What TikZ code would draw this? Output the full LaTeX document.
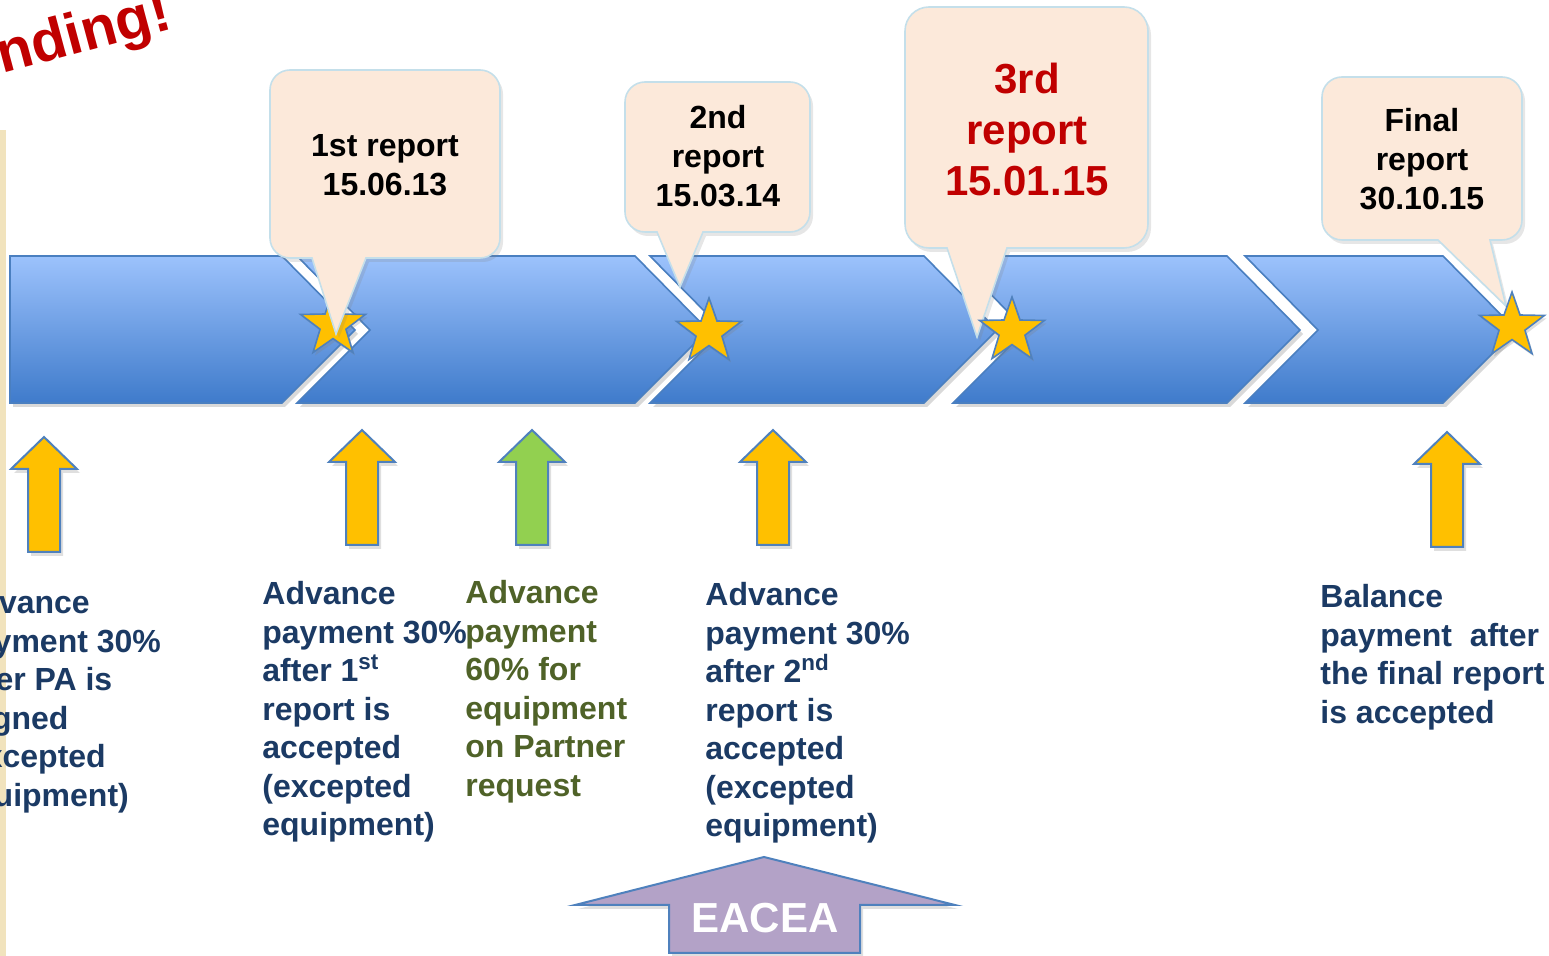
\documentclass[tikz,border=0pt]{standalone}
\usepackage{fontspec}
\setmainfont{Liberation Sans}
\usetikzlibrary{shapes.geometric,shadows}

\definecolor{chevtop}{HTML}{9CC2FC}
\definecolor{chevbot}{HTML}{3F7BCB}
\definecolor{chevline}{HTML}{4A7FC0}
\definecolor{callfill}{HTML}{FCE9DA}
\definecolor{callline}{HTML}{C4DFEA}
\definecolor{starfill}{HTML}{FFC000}
\definecolor{arrline}{HTML}{4F81BD}
\definecolor{payorange}{HTML}{FFC000}
\definecolor{paygreen}{HTML}{92D050}
\definecolor{paynavy}{HTML}{1B3A64}
\definecolor{textgreen}{HTML}{4F6228}
\definecolor{repred}{HTML}{C00000}
\definecolor{eaceafill}{HTML}{B3A2C7}
\definecolor{stripbeige}{HTML}{F1E3BD}

\begin{document}
\begin{tikzpicture}[x=0.5pt,y=-0.5pt,
  chevron/.style={draw=chevline, line width=0.8pt, top color=chevtop, bottom color=chevbot,
    drop shadow={opacity=0.3, shadow xshift=1.5pt, shadow yshift=-2pt}},
  callbox/.style={draw=callline, line width=0.8pt, fill=callfill,
    drop shadow={opacity=0.2, shadow xshift=1.5pt, shadow yshift=-2pt}},
  calltext/.style={align=center, inner sep=0pt, font=\fontsize{16}{19.5}\selectfont\bfseries},
  mstar/.style={star, star points=5, star point ratio=2.5, minimum size=34pt, inner sep=0pt,
    draw=arrline, line width=0.8pt, fill=starfill,
    drop shadow={opacity=0.25, shadow xshift=1pt, shadow yshift=-1.5pt}},
  uparrow/.style={draw=arrline, line width=1pt,
    drop shadow={opacity=0.25, shadow xshift=1.5pt, shadow yshift=-2pt}},
  paytext/.style={anchor=north west, align=left, inner sep=0pt, text=paynavy,
    font=\fontsize{16}{19.25}\selectfont\bfseries},
]
\useasboundingbox (0,0) rectangle (1549,956);
\clip (0,0) rectangle (1549,956);

% left border strip
\fill[stripbeige] (0,130) rectangle (6,956);

% title, cut off
\node[rotate=15, anchor=base east, inner sep=0pt, text=repred,
  font=\fontsize{29}{34}\selectfont\bfseries] (fund) at (174,28) {Funding!};

% timeline
\path[chevron] (10,256) -- (282,256) -- (355,330) -- (282,403) -- (10,403) -- cycle;
\foreach \l/\r in {297/635, 650/924, 953/1227, 1245/1443}
  \path[chevron] (\l,256) -- (\r,256) -- (\r+73,330) -- (\r,403) -- (\l,403) -- (\l+73,330) -- cycle;

\node[mstar] (s1) at (333,325) {};

% report callouts
\path[callbox] (312,258) [rounded corners=10pt] -- (270,258) -- (270,70) -- (500,70) -- (500,258) [sharp corners] -- (366,258) -- (336,334) -- cycle;
\path[callbox] (657,232) [rounded corners=10pt] -- (625,232) -- (625,82) -- (810,82) -- (810,232) [sharp corners] -- (703,232) -- (680,287) -- cycle;
\path[callbox] (947,248) [rounded corners=12pt] -- (905,248) -- (905,7) -- (1148,7) -- (1148,248) [sharp corners] -- (1007,248) -- (977,337) -- cycle;
\path[callbox] (1438,240) [rounded corners=10pt] -- (1322,240) -- (1322,77) -- (1522,77) -- (1522,240) [sharp corners] -- (1490,240) -- (1506,306) -- cycle;

\node[calltext] (r1) at (385,165) {1st report\\15.06.13};
\node[calltext] (r2) at (718,156) {2nd\\report\\15.03.14};
\node[calltext, text=repred, font=\fontsize{21}{25.5}\selectfont\bfseries] (r3) at (1027,129) {3rd\\report\\15.01.15};
\node[calltext] (r4) at (1422,159) {Final\\report\\30.10.15};

\node[mstar] (s2) at (709,332) {};
\node[mstar] (s3) at (1012,331) {};
\node[mstar] (s4) at (1512,326) {};

% payment arrows
\foreach \cx/\ty/\col in {44/437/payorange, 362/430/payorange, 532/430/paygreen, 773/430/payorange, 1447/432/payorange}
  \path[uparrow, fill=\col] (\cx,\ty) -- ++(33,32) -- ++(-17,0) -- ++(0,83) -- ++(-32,0) -- ++(0,-83) -- ++(-17,0) -- cycle;

% payment texts
\node[paytext] (p0) at (-44,590) {Advance\\payment 30\%\\after PA is\\\hspace*{.28em}signed\\(excepted\\equipment)};
\node[paytext] (p1) at (262,581) {Advance\\payment 30\%\\after 1\textsuperscript{st}\\report is\\accepted\\(excepted\\equipment)};
\node[paytext, text=textgreen] (p2) at (465,580) {Advance\\payment\\60\% for\\equipment\\on Partner\\request};
\node[paytext] (p3) at (705,582) {Advance\\payment 30\%\\after 2\textsuperscript{nd}\\report is\\accepted\\(excepted\\equipment)};
\node[paytext] (p4) at (1320,584) {Balance\\payment\ \ after\\the final report\\is accepted};

% EACEA
\path[uparrow, fill=eaceafill] (764,857) -- (955,905) -- (860,905) -- (860,953) -- (669,953) -- (669,905) -- (575,905) -- cycle;
\node[inner sep=0pt, text=white, font=\fontsize{21}{25}\selectfont\bfseries] (eacea) at (765,918) {EACEA};
\end{tikzpicture}
\end{document}
